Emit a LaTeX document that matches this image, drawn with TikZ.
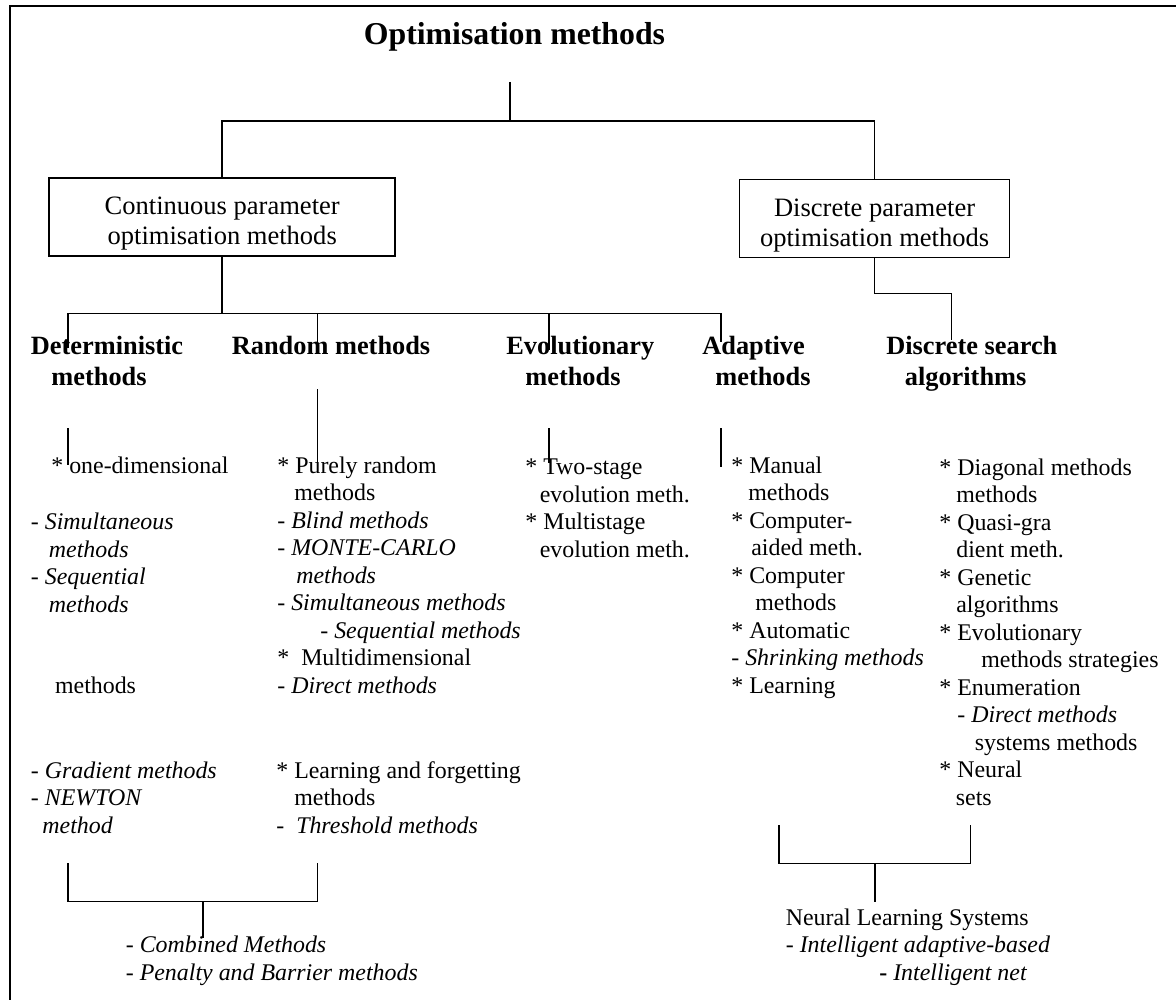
\documentclass[tikz,border=0pt]{standalone}
\usepackage{fontspec}
\setmainfont{Liberation Serif}
\tikzset{catbox/.style={rectangle, draw=black, line width=0.9pt, align=center, font=\fontsize{15.1}{17}\selectfont}}
\tikzset{heading/.style={anchor=base west, inner sep=0pt, align=left, font=\fontsize{15}{17.6}\selectfont\bfseries}}
\tikzset{itemlist/.style={anchor=base west, inner sep=0pt, align=left, font=\fontsize{13.6}{15.65}\selectfont}}
\tikzset{link/.style={black, line width=0.85pt}}

\begin{document}
\begin{tikzpicture}[x=0.02cm, y=-0.02cm]
        \useasboundingbox (0,0) rectangle (1176,1000);
        \draw [line width=1.1pt] (10,1000) |- (1176,6);

        \node [anchor=base west, inner sep=0pt, font=\fontsize{18.1}{21}\selectfont\bfseries](title) at (363.5,45) {Optimisation methods};
        \node [catbox, minimum width=6.92cm, minimum height=1.56cm](contbox) at (222.2,217) {\rule{0pt}{0.62cm}Continuous parameter\\optimisation methods};
        \node [catbox, minimum width=5.4cm, minimum height=1.54cm](discbox) at (874.6,218.5) {\rule{0pt}{0.62cm}Discrete parameter\\optimisation methods};

        % method families (anchored at the last line)
        \node [heading](detname) at (30.6,385) {Deterministic\\\hspace*{0.41cm}methods};
        \node [heading](randname) at (231.5,354) {Random methods};
        \node [heading](evoname) at (506,385) {Evolutionary\\\hspace*{0.38cm}methods};
        \node [heading](adaname) at (702,385) {Adaptive\\\hspace*{0.26cm}methods};
        \node [heading](discname) at (886,385) {Discrete search\\\hspace*{0.37cm}algorithms};

        % lists (anchored at the last line)
        \node [itemlist](detone) at (51,473) {* one-dimensional};
        \node [itemlist](detsim) at (30.6,612) {- \textit{Simultaneous}\\\hspace*{0.36cm}\textit{methods}\\- \textit{Sequential}\\\hspace*{0.36cm}\textit{methods}};
        \node [itemlist](detmulti) at (54.7,693) {methods};
        \node [itemlist](detgrad) at (30.6,833) {- \textit{Gradient methods}\\- \textit{NEWTON}\\\hspace*{0.23cm}\textit{method}};
        \node [itemlist](randpure) at (277,693) {* Purely random\\\hspace*{0.34cm}methods\\- \textit{Blind methods}\\- \textit{MONTE-CARLO}\\\hspace*{0.38cm}\textit{methods}\\- \textit{Simultaneous methods}\\\hspace*{0.86cm}- \textit{Sequential methods}\\*\ \ Multidimensional\\- \textit{Direct methods}};
        \node [itemlist](randlearn) at (276,833) {* Learning and forgetting\\\hspace*{0.36cm}methods\\-\ \ \textit{Threshold methods}};
        \node [itemlist](evotwo) at (525,557) {* Two-stage\\\hspace*{0.29cm}evolution meth.\\* Multistage\\\hspace*{0.29cm}evolution meth.};
        \node [itemlist](adaman) at (731,693) {* Manual\\\hspace*{0.34cm}methods\\* Computer-\\\hspace*{0.4cm}aided meth.\\* Computer\\\hspace*{0.48cm}methods\\* Automatic\\- \textit{Shrinking methods}\\* Learning};
        \node [itemlist](discdiag) at (939,805) {* Diagonal methods\\\hspace*{0.34cm}methods\\* Quasi-gra\\\hspace*{0.34cm}dient meth.\\* Genetic\\\hspace*{0.34cm}algorithms\\* Evolutionary\\\hspace*{0.84cm}methods strategies\\* Enumeration\\\hspace*{0.36cm}- \textit{Direct methods}\\\hspace*{0.71cm}systems methods\\* Neural\\\hspace*{0.33cm}sets};
        \node [itemlist](combined) at (125.5,980) {- \textit{Combined Methods}\\- \textit{Penalty and Barrier methods}};
        \node [itemlist](neural) at (785.5,980) {Neural Learning Systems\\- \textit{Intelligent adaptive-based}\\\hspace*{1.87cm}\textbf{-} \textit{Intelligent net}};

        % junctions and free ends
        \coordinate (top) at (510,82);
        \coordinate (split) at (510,121);
        \coordinate (contsplit) at (222.2,313.3);
        \coordinate (detin) at (68,348);
        \coordinate (randin) at (317.6,353);
        \coordinate (evoin) at (549,350);
        \coordinate (adain) at (721,342);
        \coordinate (discsplit) at (874.6,293.3);
        \coordinate (discin) at (951.7,340);
        \coordinate (detstub) at (68,428);
        \coordinate (detstubend) at (68,465);
        \coordinate (randstub) at (317.6,389);
        \coordinate (randstubend) at (317.6,468);
        \coordinate (evostub) at (549,428);
        \coordinate (evostubend) at (549,463);
        \coordinate (adastub) at (721,428);
        \coordinate (adastubend) at (721,467);
        \coordinate (leftbl) at (68,863);
        \coordinate (leftbr) at (317.6,863);
        \coordinate (leftbmid) at (202.8,901.7);
        \coordinate (leftbend) at (202.8,938);
        \coordinate (rightbl) at (779,825);
        \coordinate (rightbr) at (970.3,825);
        \coordinate (rightbmid) at (874.8,863.3);
        \coordinate (rightbend) at (874.8,901.7);

        \draw [link] (top) -- (split);
        \draw [link] (split) -| (contbox.north);
        \draw [link] (split) -| (discbox.north);
        \draw [link] (contbox.south) -- (contsplit);
        \draw [link] (detin) |- (contsplit) -| (adain);
        \draw [link] (randin) -- (randin |- contsplit);
        \draw [link] (evoin) -- (evoin |- contsplit);
        \draw [link] (discbox.south) -- (discsplit) -| (discin);
        \draw [link] (detstub) -- (detstubend);
        \draw [link] (randstub) -- (randstubend);
        \draw [link] (evostub) -- (evostubend);
        \draw [link] (adastub) -- (adastubend);
        \draw [link] (leftbl) |- (leftbmid) -| (leftbr);
        \draw [link] (leftbmid) -- (leftbend);
        \draw [link] (rightbl) |- (rightbmid) -| (rightbr);
        \draw [link] (rightbmid) -- (rightbend);
\end{tikzpicture}
\end{document}
